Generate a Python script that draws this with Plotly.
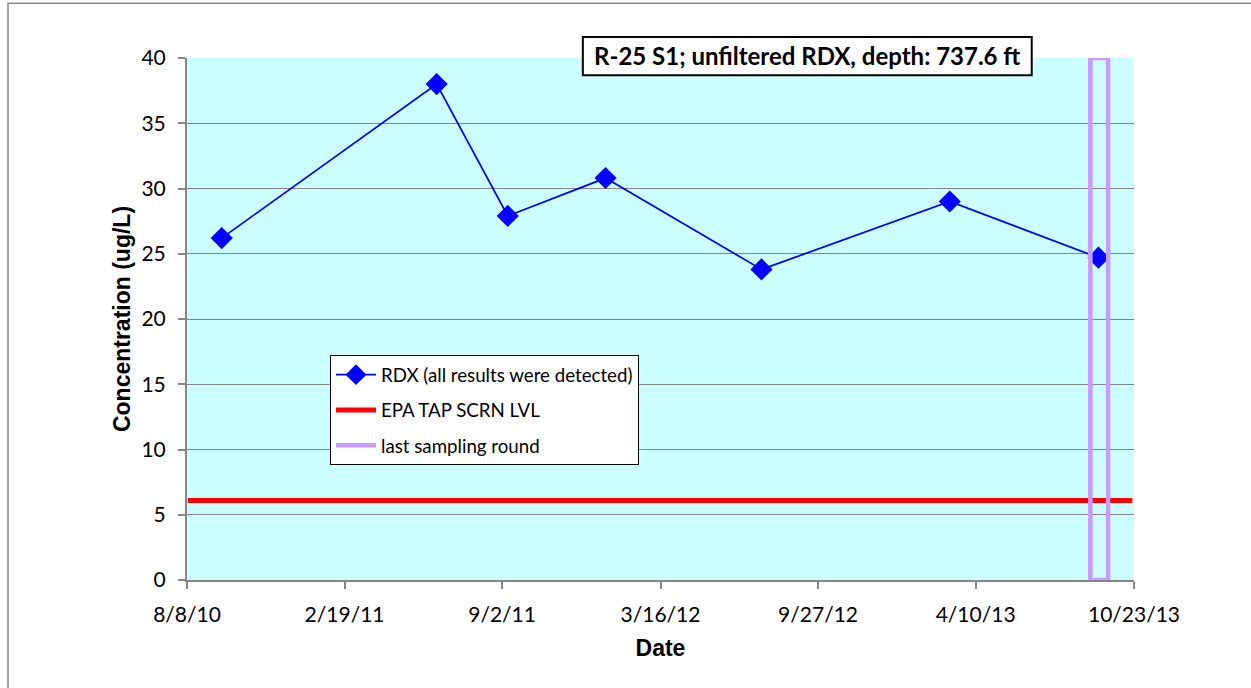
import plotly.graph_objects as go

# ---- data ----
sample_dates = ["2010-09-20", "2011-06-13", "2011-09-09", "2012-01-08",
                "2012-07-19", "2013-03-09", "2013-09-09"]
rdx_values = [26.2, 38.0, 27.9, 30.8, 23.8, 29.0, 24.7]

screen_level = 6.1
screen_dates = ["2010-08-09", "2013-10-21"]

last_round_x = ["2013-08-30", "2013-09-21", "2013-09-21", "2013-08-30", "2013-08-30"]
last_round_y = [0, 0, 40, 40, 0]

tick_dates = ["2010-08-08", "2011-02-19", "2011-09-02", "2012-03-16",
              "2012-09-27", "2013-04-10", "2013-10-23"]
tick_labels = ["8/8/10", "2/19/11", "9/2/11", "3/16/12", "9/27/12", "4/10/13", "10/23/13"]
y_ticks = [0, 5, 10, 15, 20, 25, 30, 35, 40]

title_text = "R-25 S1; unfiltered RDX, depth: 737.6 ft"

calib = "Lato, Carlito, Calibri, sans-serif"
tick_font = dict(family=calib, size=21, color="black")
axis_title_font = dict(family="Liberation Sans, Arial", size=23, color="black")

fig = go.Figure()
fig.add_trace(go.Scatter(
    x=sample_dates, y=rdx_values, mode="lines+markers",
    name="RDX (all results were detected)", legendgroup="a",
    line=dict(color="#0000FF", width=1.75),
    marker=dict(symbol="diamond", size=17, color="#0000FF"),
))
fig.add_trace(go.Scatter(
    x=screen_dates, y=[screen_level, screen_level], mode="lines",
    name="EPA TAP SCRN LVL", legendgroup="b",
    line=dict(color="#FF0000", width=5),
))
fig.add_trace(go.Scatter(
    x=last_round_x, y=last_round_y, mode="lines",
    name="last sampling round", legendgroup="c",
    line=dict(color="#CC99FF", width=4.5),
))

fig.update_layout(
    width=1251, height=688,
    margin=dict(l=187, r=117, t=58, b=108),
    paper_bgcolor="white",
    plot_bgcolor="#CCFFFF",
    showlegend=True,
    legend=dict(
        x=0.151, y=0.431, xanchor="left", yanchor="top",
        bgcolor="white", bordercolor="black", borderwidth=1,
        font=dict(family=calib, size=18.7, color="black"),
        tracegroupgap=8, itemwidth=40,
    ),
    xaxis=dict(
        range=[tick_dates[0], tick_dates[-1]],
        tickvals=tick_dates, ticktext=tick_labels,
        tickfont=tick_font, ticklabelstandoff=8,
        showgrid=False, zeroline=False,
        showline=True, linecolor="#868686", linewidth=2,
        ticks="outside", ticklen=7, tickcolor="#868686", tickwidth=1.5,
        title=dict(text="<b>Date</b>", font=axis_title_font, standoff=15),
    ),
    yaxis=dict(
        range=[0, 40], tickvals=y_ticks,
        tickfont=tick_font, ticklabelstandoff=8,
        showgrid=True, gridcolor="#868686", gridwidth=1,
        zeroline=False,
        showline=True, linecolor="#868686", linewidth=2,
        ticks="outside", ticklen=7, tickcolor="#868686", tickwidth=1.5,
        title=dict(text="<b>Concentration (ug/L)</b>", font=axis_title_font, standoff=4),
    ),
    annotations=[dict(
        text="<b>" + title_text + "</b>",
        xref="paper", yref="paper", x=0.655, y=1.004, xanchor="center", yanchor="middle",
        showarrow=False,
        font=dict(family=calib, size=24, color="black"),
    )],
    shapes=[
        dict(type="rect", xref="paper", yref="paper",
             x0=-0.189, y0=-0.5, x1=1.5, y1=1.105,
             line=dict(color="#868686", width=1.5), fillcolor="rgba(0,0,0,0)", layer="below"),
        dict(type="rect", xref="paper", yref="paper",
             x0=0.418, x1=0.892, y0=0.967, y1=1.040,
             line=dict(color="black", width=2), fillcolor="white", layer="above"),
    ],
)

fig.write_html("out.html", config={"displayModeBar": False},
               post_script="document.body.style.margin='0';")
